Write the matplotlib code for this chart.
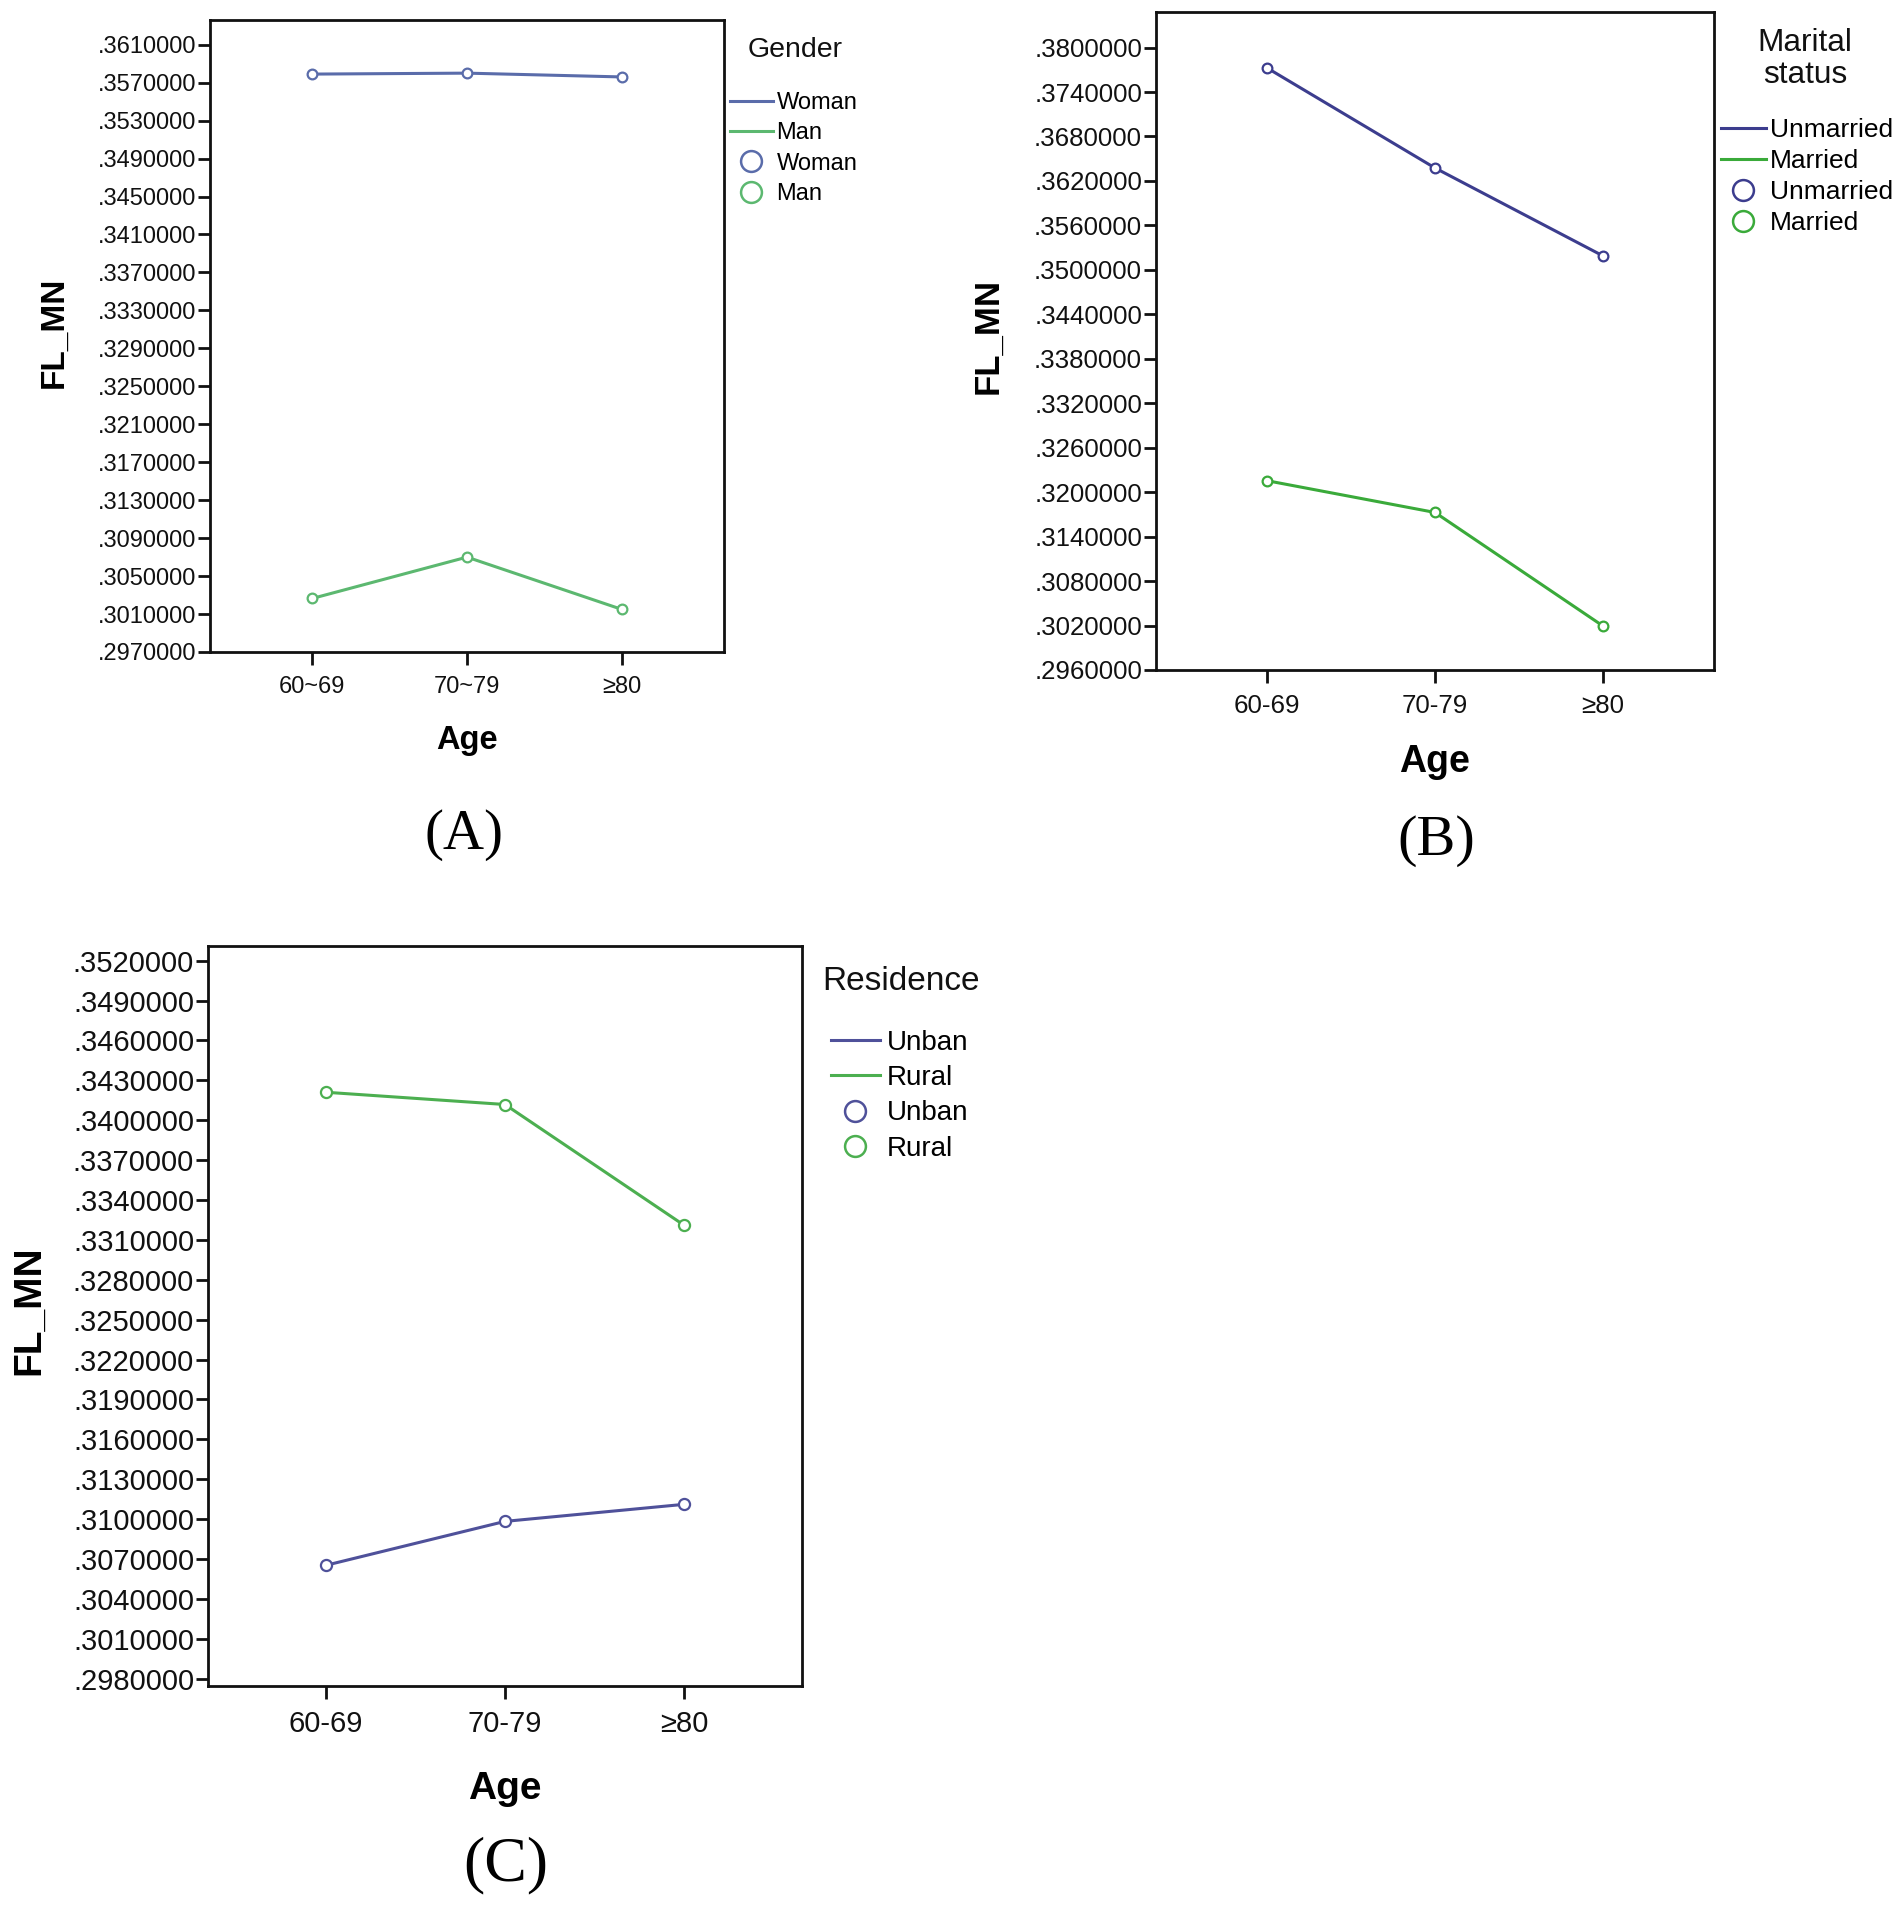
import numpy as np
import matplotlib
matplotlib.use("Agg")
import matplotlib.pyplot as plt
from matplotlib.lines import Line2D
from matplotlib.ticker import FixedLocator, FuncFormatter

plt.rcParams['font.family'] = ['Liberation Sans', 'DejaVu Sans']

W, H = 1902, 1911

# panel A: gender
ages_a = ["60~69", "70~79", "≥80"]
woman = [0.35790, 0.35800, 0.35760]
man = [0.30264, 0.30700, 0.30149]
ticks_a = np.arange(0.2970, 0.36101, 0.0040)

# panel B: marital status
ages_b = ["60-69", "70-79", "≥80"]
unmarried = [0.37726, 0.36375, 0.35188]
married = [0.32155, 0.31726, 0.30193]
ticks_b = np.arange(0.2960, 0.38001, 0.0060)

# panel C: residence
ages_c = ["60-69", "70-79", "≥80"]
urban = [0.30653, 0.30983, 0.31111]
rural = [0.34210, 0.34118, 0.33211]
ticks_c = np.arange(0.2980, 0.35201, 0.0030)


def px_axes(fig, left, top, right, bottom):
    return fig.add_axes([left / W, 1 - bottom / H, (right - left) / W, (bottom - top) / H])


def fmt(v, pos):
    return "." + f"{v:.7f}".split(".")[1]


def draw_panel(ax, cats, series, colors, ticks, ylim, fs_tick, fs_lab, fs_age,
               age_pad, ylab_xy, ms):
    x = np.arange(len(cats))
    for vals, c in zip(series, colors):
        ax.plot(x, vals, color=c, lw=2.2, marker='o', ms=ms, mfc='white',
                mec=c, mew=1.6, zorder=3)
    ax.set_xlim(-0.66, 2.66)
    ax.set_ylim(*ylim)
    ax.yaxis.set_major_locator(FixedLocator(ticks))
    ax.yaxis.set_major_formatter(FuncFormatter(fmt))
    ax.set_xticks(x)
    ax.set_xticklabels(cats)
    ax.tick_params(axis='y', labelsize=fs_tick, length=9, width=2, pad=1, colors='#111111')
    ax.tick_params(axis='x', labelsize=fs_tick, length=9, width=2, pad=8, colors='#111111')
    for s in ax.spines.values():
        s.set_linewidth(2)
        s.set_color('#111111')
    # label anchor is its right-hand edge (rotated text, va='bottom')
    ax.set_ylabel("FL_MN", fontsize=fs_lab, fontweight='bold')
    ax.yaxis.set_label_coords(ylab_xy[0] / W, 1 - ylab_xy[1] / H, transform=fig.transFigure)
    ax.set_xlabel("Age", fontsize=fs_age, fontweight='bold', labelpad=age_pad)


def add_legend(title, labels, colors, title_xy, title_ha, fs_title, x, y, fs,
               spacing, hlen, tpad):
    fig.text(title_xy[0] / W, 1 - title_xy[1] / H, title, fontsize=fs_title,
             ha=title_ha, va='center', multialignment='center', linespacing=1.05,
             color='#111111')
    handles = [Line2D([], [], color=c, lw=2.2) for c in colors]
    handles += [Line2D([], [], color=c, lw=0, marker='o', ms=15, mfc='none', mew=1.8)
                for c in colors]
    leg = fig.legend(handles, labels + labels, loc='upper left',
                     bbox_to_anchor=(x / W, 1 - y / H), frameon=False,
                     fontsize=fs, handlelength=hlen, handletextpad=tpad,
                     labelspacing=spacing, borderpad=0, borderaxespad=0)
    return leg


fig = plt.figure(figsize=(W / 100, H / 100), dpi=100)

# (A)
axA = px_axes(fig, 210, 20, 724, 652)
draw_panel(axA, ages_a, [woman, man], ['#5a6caa', '#5cb870'], ticks_a,
           (0.2970, 0.3636), 17, 24, 23.5, 20, (70, 332), 7)
add_legend("Gender", ["Woman", "Man"], ['#5a6caa', '#5cb870'],
           (795, 50), 'center', 20.5, 730, 92, 17, 0.35, 1.8, 0.17)
fig.text(464 / W, 1 - 835 / H, "(A)", fontsize=41, family='Liberation Serif',
         ha='center', va='center')

# (B)
axB = px_axes(fig, 1156, 12, 1714, 670)
draw_panel(axB, ages_b, [unmarried, married], ['#3c3d8e', '#3aaa3a'], ticks_b,
           (0.2960, 0.3848), 18.6, 25, 27, 19, (1004, 336), 7)
add_legend("Marital\nstatus", ["Unmarried", "Married"], ['#3c3d8e', '#3aaa3a'],
           (1805, 59), 'center', 22.8, 1721, 118, 19, 0.27, 1.7, 0.17)
fig.text(1436 / W, 1 - 841 / H, "(B)", fontsize=42, family='Liberation Serif',
         ha='center', va='center')

# (C)
axC = px_axes(fig, 208, 946, 802, 1686)
draw_panel(axC, ages_c, [urban, rural], ['#4f519a', '#4caf50'], ticks_c,
           (0.29745, 0.3531), 21, 28, 28, 24, (47, 1310), 8)
add_legend("Residence", ["Unban", "Rural"], ['#4f519a', '#4caf50'],
           (822, 981), 'left', 24, 831, 1030, 20, 0.33, 1.75, 0.26)
fig.text(506 / W, 1 - 1865 / H, "(C)", fontsize=46, family='Liberation Serif',
         ha='center', va='center')

fig.savefig("out.png", dpi=100)
